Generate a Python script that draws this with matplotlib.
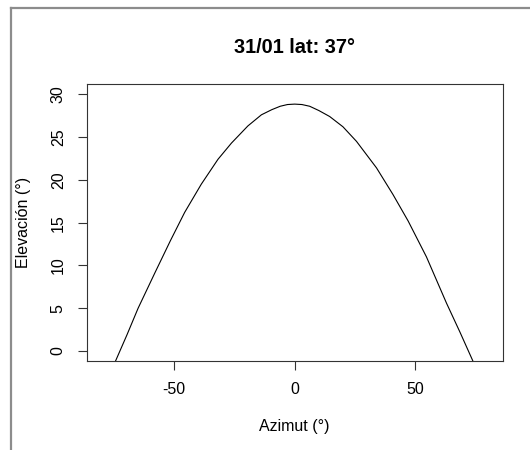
import matplotlib
matplotlib.use("Agg")
import matplotlib.pyplot as plt
from matplotlib.lines import Line2D

plt.rcParams['font.family'] = ['Liberation Sans', 'DejaVu Sans']
plt.rcParams['axes.unicode_minus'] = False

# solar path (azimuth, elevation in degrees)
azimut = [-79.8, -74.3, -69.5, -64.9, -58.0, -51.5, -45.6, -38.7, -31.8, -26.2,
          -19.4, -13.8, -9.5, -6.0, -3.0, 0.0, 3.0, 6.2, 10.0, 14.5, 20.0, 25.6,
          33.9, 40.7, 47.0, 54.6, 62.9, 68.5, 73.9, 79.8]
elevacion = [-4.8, -1.2, 1.9, 5.0, 9.1, 12.9, 16.2, 19.5, 22.4, 24.3,
             26.3, 27.6, 28.2, 28.6, 28.8, 28.85, 28.8, 28.6, 28.1, 27.4, 26.2, 24.5,
             21.4, 18.3, 15.2, 11.0, 5.6, 2.2, -1.2, -4.8]

xticks = [-50, 0, 50]
yticks = [0, 5, 10, 15, 20, 25, 30]

W, H = 530, 450
fig = plt.figure(figsize=(W / 100, H / 100), dpi=100)

# plot box in pixels: left 86.7, right 502.7, top 84, bottom 361.3
ax = fig.add_axes([86.7 / W, (H - 361.3) / H, 416 / W, 277.3 / H])
ax.plot(azimut, elevacion, color='black', linewidth=0.8)
ax.set_xlim(-86.2, 86.2)
ax.set_ylim(-1.2, 31.2)
ax.set_xticks(xticks)
ax.set_yticks(yticks)
ax.set_yticklabels([str(v) for v in yticks], rotation=90, va='center')
ax.tick_params(axis='both', length=6.5, width=0.8, color='#333333',
               labelsize=11.5, pad=8.5)
for s in ax.spines.values():
    s.set_linewidth(0.8)
    s.set_color('#333333')

ax.set_xlabel('Azimut (°)', fontsize=11.5)
ax.xaxis.set_label_coords(0.5, (361.3 - 426.7) / 277.3)
ax.xaxis.label.set_va('center')
ax.set_ylabel('Elevación (°)', fontsize=11.5)
ax.yaxis.set_label_coords((24 - 86.7) / 416, 0.5)
ax.yaxis.label.set_va('center')

fig.text(294.7 / W, 1 - 47.5 / H, '31/01 lat: 37°', ha='center', va='center',
         fontsize=14.4, fontweight='bold')

# grey frame of the screenshot (left and top edges)
fig.add_artist(Line2D([11 / W, 11 / W], [0, 1 - 8 / H], transform=fig.transFigure,
                      color='#8c8c8c', linewidth=1.6))
fig.add_artist(Line2D([11 / W, 1], [1 - 8 / H, 1 - 8 / H], transform=fig.transFigure,
                      color='#8c8c8c', linewidth=1.6))

fig.savefig('out.png', dpi=100)
